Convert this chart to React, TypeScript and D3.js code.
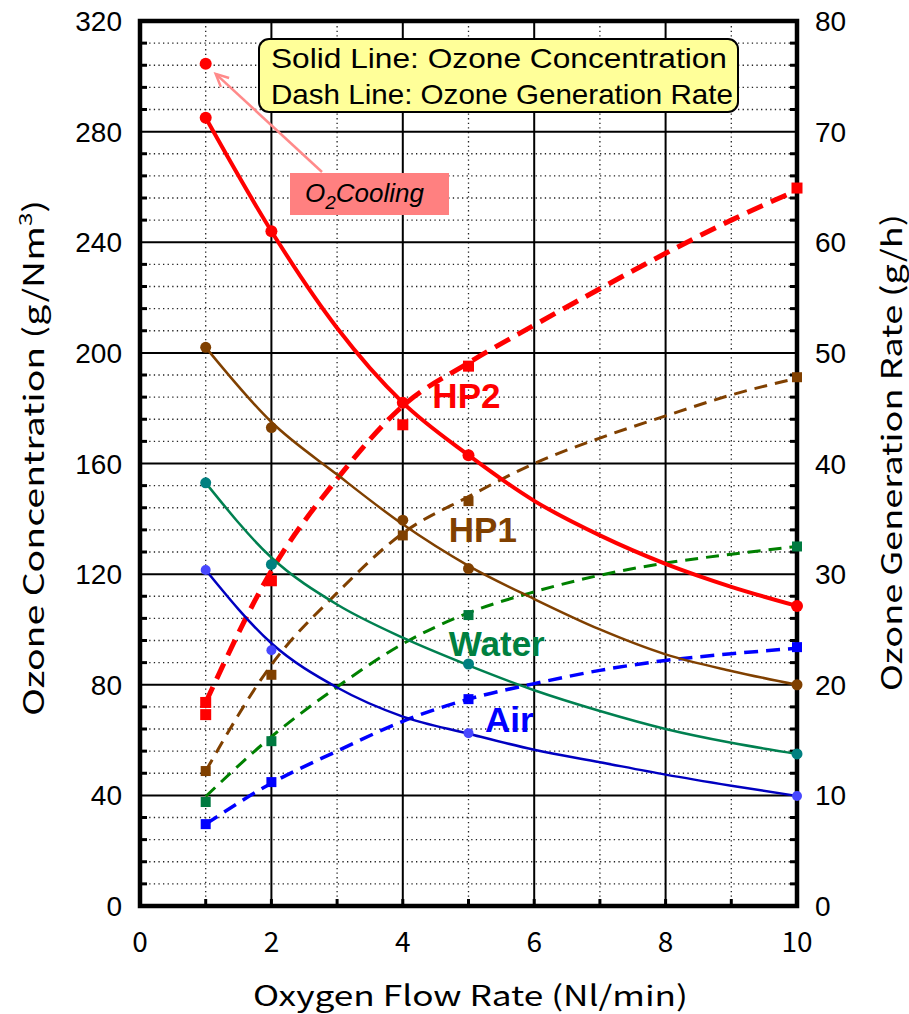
import React from 'react';
import * as d3 from 'd3';

// ---- data ----
const hpFlow = [1, 2, 4, 5, 10];
const coolFlow = [1, 2, 5, 10];
const fitFlow = [1, 2, 3, 4, 5, 6, 7, 8, 9, 10];

// concentration markers (g/Nm3, left axis)
const hp2Conc = [285, 244, 182, 163, 108.5];
const hp1Conc = [202, 173, 139.5, 122, 80];
const waterConc = [153, 123.5, 87.5, 55];
const airConc = [121.5, 92.5, 62.5, 39.8];
const coolingFlow = [1];
const coolingConc = [304.5];

// generation rate markers (g/h, right axis)
const hp2Rate = [18.4, 29.4, 43.5, 48.8, 64.9];
const hp2RateExtraFlow = [1];
const hp2RateExtra = [17.3];
const hp1Rate = [12.2, 20.9, 33.5, 36.6, 47.8];
const waterRate = [9.4, 14.9, 26.3, 32.5];
const airRate = [7.4, 11.2, 18.7, 23.4];

// fitted curves at fitFlow
const hp2ConcFit = [285, 244, 209, 182, 163, 146.5, 134, 123.7, 115.4, 108.5];
const hp1ConcFit = [202, 175, 156, 138, 123, 111, 100, 91, 85, 80];
const waterConcFit = [153, 126, 109, 97, 87, 78, 70.5, 64, 59, 55];
const airConcFit = [121.5, 95, 79, 68.5, 62.3, 56.5, 52, 47.5, 43.5, 39.8];
const hp2RateFit = [18.4, 30.3, 38.6, 45.2, 49.1, 52.5, 55.8, 59, 62, 64.7];
const hp1RateFit = [12.2, 21.8, 28.3, 33.7, 37, 40, 42.3, 44.3, 46.2, 47.7];
const waterRateFit = [9.9, 15.3, 19.8, 23.7, 26.5, 28.4, 29.9, 31, 31.8, 32.5];
const airRateFit = [7.4, 11.1, 14, 16.7, 18.7, 20.1, 21.3, 22.2, 22.8, 23.3];

const xTicks = [0, 2, 4, 6, 8, 10];
const leftTicks = [0, 40, 80, 120, 160, 200, 240, 280, 320];
const rightTicks = [0, 10, 20, 30, 40, 50, 60, 70, 80];

const W = 909;
const H = 1014;

const x = d3.scaleLinear().domain([0, 10]).range([140, 797]);
const yL = d3.scaleLinear().domain([0, 320]).range([906, 21]);
const yR = d3.scaleLinear().domain([0, 80]).range([906, 21]);

const curve = (xs: number[], ys: number[], y: d3.ScaleLinear<number, number>) =>
  d3.line<number>()
    .x((_, i) => x(xs[i]))
    .y(d => y(d))
    .curve(d3.curveMonotoneX)(ys) || '';

const series = [
  { label: 'HP2', conc: hp2Conc, concFit: hp2ConcFit, rate: hp2Rate, rateFit: hp2RateFit, flow: hpFlow,
    solid: '#ff0000', dash: '#ff0000', dot: '#ff0000', sq: '#ff0000', solidW: 4, dashW: 5, dashArr: '17,9', r: 6, s: 11 },
  { label: 'HP1', conc: hp1Conc, concFit: hp1ConcFit, rate: hp1Rate, rateFit: hp1RateFit, flow: hpFlow,
    solid: '#804000', dash: '#804000', dot: '#804000', sq: '#804000', solidW: 2.5, dashW: 3, dashArr: '13,8', r: 5.5, s: 10 },
  { label: 'Water', conc: waterConc, concFit: waterConcFit, rate: waterRate, rateFit: waterRateFit, flow: coolFlow,
    solid: '#008050', dash: '#008000', dot: '#008080', sq: '#007a40', solidW: 2.5, dashW: 3, dashArr: '13,8', r: 5.5, s: 10 },
  { label: 'Air', conc: airConc, concFit: airConcFit, rate: airRate, rateFit: airRateFit, flow: coolFlow,
    solid: '#0000c0', dash: '#0000ff', dot: '#4848ff', sq: '#0000ff', solidW: 2.5, dashW: 3.5, dashArr: '14,8', r: 5, s: 10 },
];

const labels = [
  { text: 'HP2', color: '#ff0000', fx: 4.45, fy: 180 },
  { text: 'HP1', color: '#804000', fx: 4.7, fy: 131.5 },
  { text: 'Water', color: '#008040', fx: 4.7, fy: 90.5 },
  { text: 'Air', color: '#0000ff', fx: 5.25, fy: 63 },
];

const App = () => {
  const minorY = d3.range(8, 320, 8).filter(v => v % 40 !== 0);
  const minorX = [1, 3, 5, 7, 9];
  const allX = d3.range(1, 10, 1);

  // arrow from the O2 Cooling box to the cooled point
  const tipX = x(coolingFlow[0]) + 10;
  const tipY = yL(coolingConc[0]) + 10;
  const tailX = 322;
  const tailY = 172;
  const ang = Math.atan2(tipY - tailY, tipX - tailX);
  const head = (a: number) => `${tipX - 14 * Math.cos(ang + a)},${tipY - 14 * Math.sin(ang + a)}`;

  return (
    <div style={{ position: 'absolute', left: 0, top: 0, background: '#fff' }}>
      <svg width={W} height={H} style={{ display: 'block' }}>
        <rect width={W} height={H} fill="#fff" />

        {/* minor dotted grid */}
        <g stroke="#222" strokeWidth={1.3} strokeDasharray="1.3,3.3">
          {minorY.map(v => (
            <line key={'my' + v} x1={x(0)} x2={x(10)} y1={yL(v)} y2={yL(v)} />
          ))}
          {minorX.map(v => (
            <line key={'mx' + v} x1={x(v)} x2={x(v)} y1={yL(0)} y2={yL(320)} />
          ))}
        </g>

        {/* major grid */}
        <g stroke="#000" strokeWidth={2}>
          {leftTicks.slice(1, -1).map(v => (
            <line key={'gy' + v} x1={x(0)} x2={x(10)} y1={yL(v)} y2={yL(v)} />
          ))}
          {xTicks.slice(1, -1).map(v => (
            <line key={'gx' + v} x1={x(v)} x2={x(v)} y1={yL(0)} y2={yL(320)} />
          ))}
        </g>

        {/* inner tick marks */}
        <g stroke="#000" strokeWidth={3}>
          {minorY.map(v => (
            <React.Fragment key={'t' + v}>
              <line x1={x(0)} x2={x(0) + 7} y1={yL(v)} y2={yL(v)} />
              <line x1={x(10)} x2={x(10) - 7} y1={yL(v)} y2={yL(v)} />
            </React.Fragment>
          ))}
          {allX.map(v => (
            <line key={'tx' + v} x1={x(v)} x2={x(v)} y1={yL(0)} y2={yL(0) - 7} />
          ))}
        </g>

        {/* fitted curves: dashed rates first, then solid concentrations */}
        {series.map(s => (
          <path key={'d' + s.label} d={curve(fitFlow, s.rateFit, yR)} fill="none"
            stroke={s.dash} strokeWidth={s.dashW} strokeDasharray={s.dashArr} />
        ))}
        {series.slice().reverse().map(s => (
          <path key={'s' + s.label} d={curve(fitFlow, s.concFit, yL)} fill="none"
            stroke={s.solid} strokeWidth={s.solidW} />
        ))}

        {/* frame */}
        <rect x={x(0)} y={yL(320)} width={x(10) - x(0)} height={yL(0) - yL(320)}
          fill="none" stroke="#000" strokeWidth={4.5} />

        {/* markers */}
        {series.map(s => (
          <g key={'m' + s.label}>
            {s.rate.map((v, i) => (
              <rect key={'q' + i} x={x(s.flow[i]) - s.s / 2} y={yR(v) - s.s / 2} width={s.s} height={s.s} fill={s.sq} />
            ))}
            {s.conc.map((v, i) => (
              <circle key={'c' + i} cx={x(s.flow[i])} cy={yL(v)} r={s.r} fill={s.dot} />
            ))}
          </g>
        ))}
        {hp2RateExtra.map((v, i) => (
          <rect key={'ex' + i} x={x(hp2RateExtraFlow[i]) - 5.5} y={yR(v) - 5.5} width={11} height={11} fill="#ff0000" />
        ))}
        {coolingConc.map((v, i) => (
          <circle key={'cc' + i} cx={x(coolingFlow[i])} cy={yL(v)} r={6} fill="#ff0000" />
        ))}

        {/* series labels */}
        {labels.map(l => (
          <text key={l.text} x={x(l.fx)} y={yL(l.fy)} fill={l.color} fontFamily="Liberation Sans, Arial, sans-serif"
            fontWeight="bold" fontSize={35}>{l.text}</text>
        ))}

        {/* legend box */}
        <rect x={259} y={39} width={479} height={73} rx={10} fill="#ffff99" stroke="#000" strokeWidth={2} />
        <text x={271} y={68} fontFamily="Liberation Sans, Arial, sans-serif" fontSize={28}
          textLength={456} lengthAdjust="spacingAndGlyphs">Solid Line: Ozone Concentration</text>
        <text x={271} y={104} fontFamily="Liberation Sans, Arial, sans-serif" fontSize={28}
          textLength={462} lengthAdjust="spacingAndGlyphs">Dash Line: Ozone Generation Rate</text>

        {/* O2 cooling annotation */}
        <line x1={tailX} y1={tailY} x2={tipX} y2={tipY} stroke="#ff8a8a" strokeWidth={2.5} />
        <polyline points={`${head(0.45)} ${tipX},${tipY} ${head(-0.45)}`} fill="none" stroke="#ff8a8a" strokeWidth={2.5} />
        <rect x={290} y={173} width={159} height={42} fill="#ff8080" />
        <text x={305} y={202} fontFamily="Liberation Sans, Arial, sans-serif" fontStyle="italic" fontSize={26}>
          O<tspan fontSize={19} dy={7}>2</tspan><tspan dy={-7}>Cooling</tspan>
        </text>

        {/* tick labels */}
        <g fontFamily="Liberation Sans, Arial, sans-serif" fontSize={28} fill="#000">
          {leftTicks.map(v => (
            <text key={'l' + v} x={122} y={yL(v)} dy="0.36em" textAnchor="end">{v}</text>
          ))}
          {rightTicks.map(v => (
            <text key={'r' + v} x={815} y={yR(v)} dy="0.36em" textAnchor="start">{v}</text>
          ))}
        </g>
        <g fontFamily="Noto Sans CJK JP, Liberation Sans, sans-serif" fontSize={28} fill="#000">
          {xTicks.map(v => (
            <text key={'b' + v} x={x(v)} y={952} textAnchor="middle">{v}</text>
          ))}
        </g>

        {/* axis titles */}
        <g fontFamily="Noto Sans CJK JP, Liberation Sans, sans-serif" fontSize={28} fill="#000">
          <text x={253} y={1006} textLength={435} lengthAdjust="spacingAndGlyphs">Oxygen Flow Rate (Nl/min)</text>
          <text transform={`translate(44,${716}) rotate(-90)`} textLength={516} lengthAdjust="spacingAndGlyphs">
            Ozone Concentration (g/Nm<tspan fontSize={18} dy={-12}>3</tspan><tspan dy={12}>)</tspan>
          </text>
          <text transform={`translate(902,${691}) rotate(-90)`} textLength={477} lengthAdjust="spacingAndGlyphs">
            Ozone Generation Rate (g/h)
          </text>
        </g>
      </svg>
    </div>
  );
};

export default App;
